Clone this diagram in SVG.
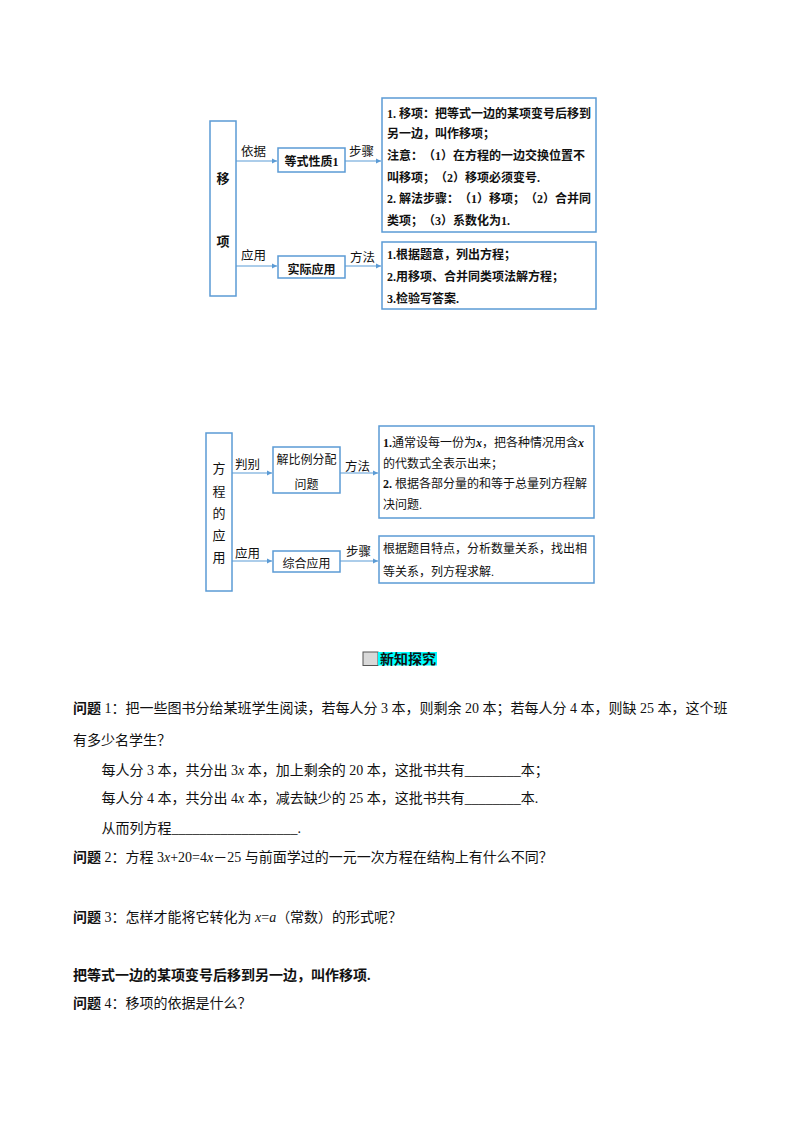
<svg xmlns="http://www.w3.org/2000/svg" width="800" height="1132" viewBox="0 0 800 1132">
<defs>
<marker id="arr" markerUnits="userSpaceOnUse" markerWidth="6" markerHeight="6" refX="5" refY="3" orient="auto">
<path d="M0,0.5 L5,3 L0,5.5 Z" fill="#5B9BD5"/>
</marker>
<style>
.box{fill:#fff;stroke:#5B9BD5;stroke-width:1.5}
.conn{stroke:#5B9BD5;stroke-width:1.2;fill:none;marker-end:url(#arr)}
text{font-family:"Liberation Serif","Noto Sans CJK SC",serif;fill:#111;text-spacing-trim:space-all}
.b{font-weight:bold}
.d{font-size:12px}
.lbl{font-size:12.5px}
.big{font-size:13px}
.body{font-size:14px}
.i{font-style:italic}
.mid{text-anchor:middle}
</style>
</defs>
<rect width="800" height="1132" fill="#fff"/>

<!-- Diagram 1 -->
<g id="connectors1">
<line class="conn" x1="236" y1="161" x2="277" y2="161"/>
<line class="conn" x1="345" y1="161" x2="381" y2="161"/>
<line class="conn" x1="236" y1="266" x2="277" y2="266"/>
<line class="conn" x1="345" y1="266" x2="381" y2="266"/>
<text class="lbl" x="241" y="156">依据</text>
<text class="lbl" x="349" y="156">步骤</text>
<text class="lbl" x="241" y="260">应用</text>
<text class="lbl" x="350" y="262">方法</text>
</g>
<g id="node-yixiang">
<rect class="box" x="210" y="121" width="26" height="175"/>
<text class="big b mid" x="223" y="183">移</text>
<text class="big b mid" x="223" y="246">项</text>
</g>
<g id="node-dengshi">
<rect class="box" x="278" y="148" width="67" height="24"/>
<text class="d b mid" x="311.5" y="166">等式性质1</text>
</g>
<g id="node-shiji">
<rect class="box" x="278" y="256" width="67" height="22"/>
<text class="d b mid" x="311.5" y="273.5">实际应用</text>
</g>
<g id="node-buzhou">
<rect class="box" x="382" y="98" width="214" height="134"/>
<text class="d b" x="387" y="118">1. 移项：把等式一边的某项变号后移到</text>
<text class="d b" x="387" y="138">另一边，叫作移项；</text>
<text class="d b" x="387" y="160">注意：（1）在方程的一边交换位置不</text>
<text class="d b" x="387" y="182">叫移项；（2）移项必须变号.</text>
<text class="d b" x="387" y="203">2. 解法步骤：（1）移项；（2）合并同</text>
<text class="d b" x="387" y="224.5">类项；（3）系数化为1.</text>
</g>
<g id="node-fangfa">
<rect class="box" x="382" y="242" width="214" height="67"/>
<text class="d b" x="387" y="259">1.根据题意，列出方程；</text>
<text class="d b" x="387" y="281">2.用移项、合并同类项法解方程；</text>
<text class="d b" x="387" y="303">3.检验写答案.</text>
</g>

<!-- Diagram 2 -->
<g id="connectors2">
<line class="conn" x1="232" y1="473" x2="272" y2="473"/>
<line class="conn" x1="340" y1="473" x2="378" y2="473"/>
<line class="conn" x1="232" y1="561" x2="272" y2="561"/>
<line class="conn" x1="340" y1="561" x2="378" y2="561"/>
<text class="lbl" x="235" y="468.5">判别</text>
<text class="lbl" x="345" y="471">方法</text>
<text class="lbl" x="235" y="557.5">应用</text>
<text class="lbl" x="346" y="556">步骤</text>
</g>
<g id="node-fangcheng">
<rect class="box" x="206" y="433" width="26" height="158"/>
<text class="big mid" x="219" y="472.5">方</text>
<text class="big mid" x="219" y="495.5">程</text>
<text class="big mid" x="219" y="517.5">的</text>
<text class="big mid" x="219" y="539.5">应</text>
<text class="big mid" x="219" y="561.5">用</text>
</g>
<g id="node-bili">
<rect class="box" x="273" y="447" width="67" height="46"/>
<text class="d mid" x="306.5" y="463.5">解比例分配</text>
<text class="d mid" x="306.5" y="488.5">问题</text>
</g>
<g id="node-zonghe">
<rect class="box" x="273" y="551" width="67" height="21"/>
<text class="d mid" x="306.5" y="567.5">综合应用</text>
</g>
<g id="node-fangfa2">
<rect class="box" x="379" y="426" width="215" height="92"/>
<text class="d" x="383" y="447"><tspan class="b">1.</tspan>通常设每一份为<tspan class="i b">x</tspan>，把各种情况用含<tspan class="i b">x</tspan></text>
<text class="d" x="383" y="467.5">的代数式全表示出来；</text>
<text class="d" x="383" y="488"><tspan class="b">2. </tspan>根据各部分量的和等于总量列方程解</text>
<text class="d" x="383" y="509">决问题.</text>
</g>
<g id="node-buzhou2">
<rect class="box" x="379" y="536" width="215" height="47"/>
<text class="d" x="383" y="553">根据题目特点，分析数量关系，找出相</text>
<text class="d" x="383" y="576">等关系，列方程求解.</text>
</g>

<!-- Banner -->
<g id="banner">
<rect x="363" y="652" width="15" height="13.5" fill="#d9d9d9" stroke="#555" stroke-width="1"/>
<rect x="378" y="652" width="59" height="13.5" fill="#00FFFF"/>
<text class="b" x="380" y="664" font-size="14">新知探究</text>
</g>

<!-- Body text -->
<g id="body">
<text class="body" x="73" y="713"><tspan class="b">问题</tspan> 1：把一些图书分给某班学生阅读，若每人分 3 本，则剩余 20 本；若每人分 4 本，则缺 25 本，这个班</text>
<text class="body" x="73" y="745">有多少名学生？</text>
<text class="body" x="101.5" y="775">每人分 3 本，共分出 3<tspan class="i">x</tspan> 本，加上剩余的 20 本，这批书共有________本；</text>
<text class="body" x="101.5" y="803">每人分 4 本，共分出 4<tspan class="i">x</tspan> 本，减去缺少的 25 本，这批书共有________本.</text>
<text class="body" x="101.5" y="833">从而列方程__________________.</text>
<text class="body" x="73" y="862"><tspan class="b">问题</tspan> 2：方程 3<tspan class="i">x</tspan>+20=4<tspan class="i">x</tspan>－25 与前面学过的一元一次方程在结构上有什么不同？</text>
<text class="body" x="73" y="922"><tspan class="b">问题</tspan> 3：怎样才能将它转化为 <tspan class="i">x</tspan>=<tspan class="i">a</tspan>（常数）的形式呢？</text>
<text class="body b" x="73" y="980">把等式一边的某项变号后移到另一边，叫作移项.</text>
<text class="body" x="73" y="1008"><tspan class="b">问题</tspan> 4：移项的依据是什么？</text>
</g>
</svg>
